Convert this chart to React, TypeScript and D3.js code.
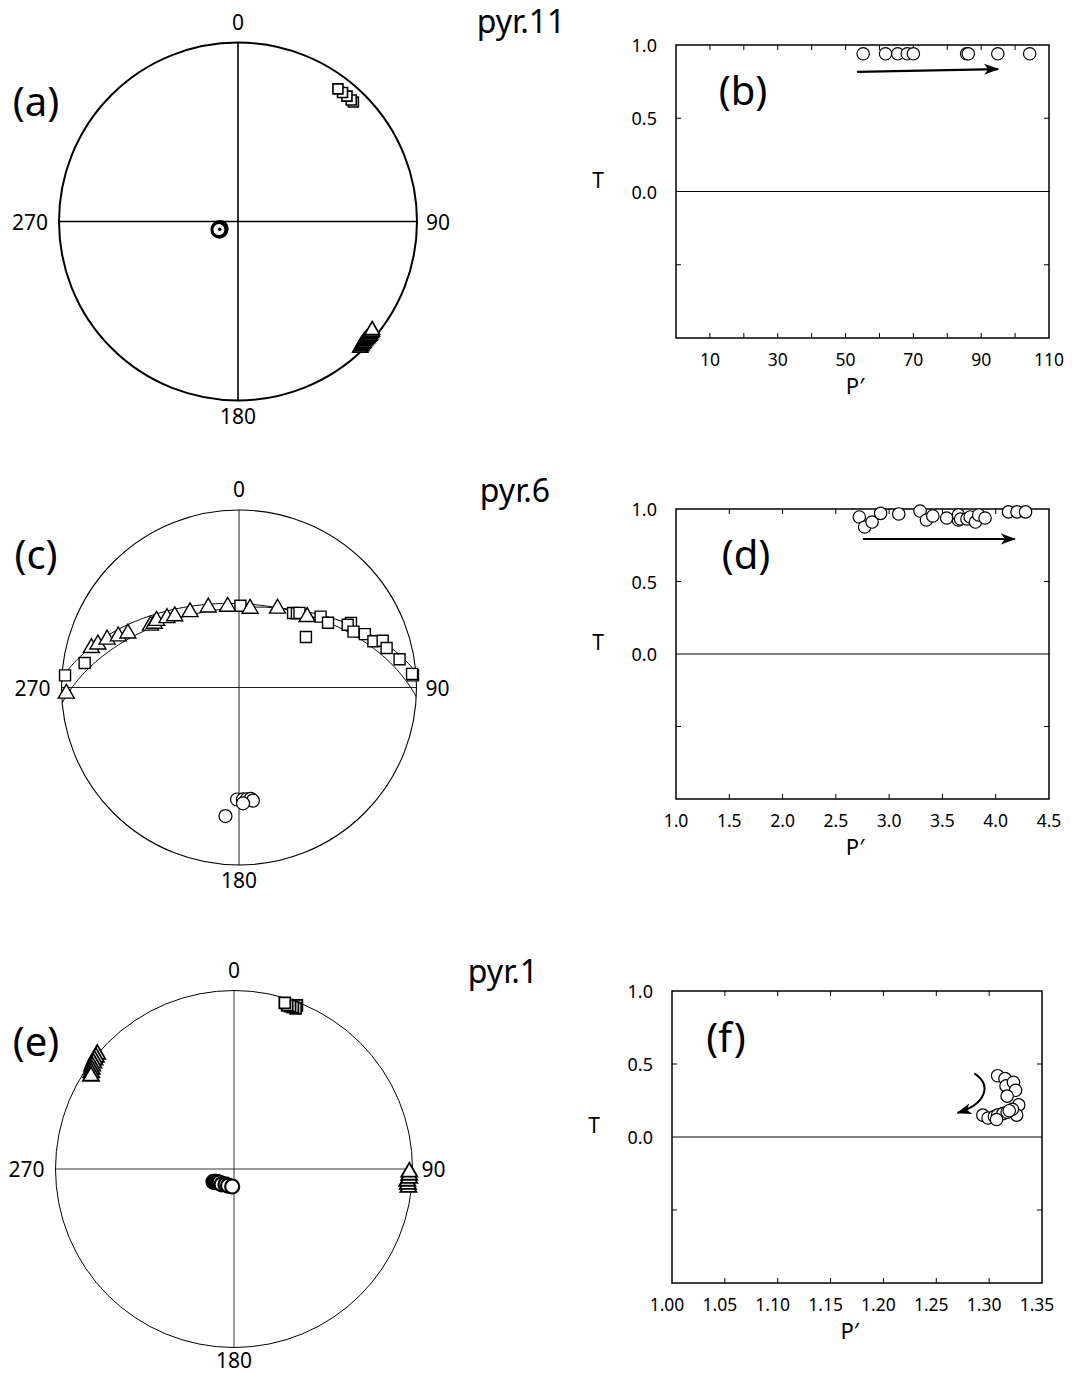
import * as d3 from 'd3'

const FONT = '"Noto Sans", "Open Sans", sans-serif'

// Stereonet data: [trend, plunge] in degrees, lower hemisphere, equal-area
// pyr.11
const a_k1: [number, number][] = [[44, 8], [43, 8], [41, 8], [39, 8], [37, 8]]
const a_k2: [number, number][] = [
  [136, 2], [135.5, 2.3], [135, 2.5], [134.5, 2.7], [134, 2.8], [133.5, 3], [133, 3], [132.5, 3],
  [132, 3], [131.5, 3], [131, 3], [130.5, 3.2], [130, 3.3], [129.5, 3.5], [129, 4],
]
const a_k3: [number, number][] = [[247, 81], [249, 81.3], [245, 80.7], [247, 80.6]]
const a_mean: [number, number][] = [[247, 81]]

// pyr.6
const c_k1: [number, number][] = [
  [274, 2], [279, 13], [1, 52], [36, 47], [38, 46], [39, 45], [53, 51], [49, 39], [54, 38],
  [60, 28], [60, 30], [64, 29], [67, 24], [71, 21], [72, 16], [75, 15], [80, 9], [86, 2], [85.5, 2.5],
]
const c_k2: [number, number][] = [
  [268, 3], [285, 15], [287, 18], [290, 22], [293, 27], [296, 31], [305, 39], [307, 40], [309, 40],
  [314, 43], [318, 45], [327, 48], [339, 50], [352, 52], [8, 53], [26, 49], [44, 44],
]
const c_k3: [number, number][] = [[186, 28], [181, 37], [178, 37], [176, 37], [174, 37], [173, 36], [178, 35]]
// great circles: [dip direction, dip]
const c_planes: [number, number][] = [[355, 53], [3, 51]]

// pyr.1
const e_k1: [number, number][] = [[21, 2], [21, 4], [20, 4], [19, 4], [18, 4], [17, 3]]
const e_k2: [number, number][] = [
  [310, 0], [309, 0.5], [308, 1], [307, 1.5], [306, 2], [305, 3], [304, 4], [303, 5],
  [96, 2], [95, 2.5], [94, 3], [93, 2], [92, 2], [91, 2],
]
const e_k3: [number, number][] = [[238, 79], [236, 79.5], [234, 80], [230, 80.5], [227, 81], [219, 81], [209, 82], [200, 82], [186, 82]]

// T vs P' data
const b_P = [55.2, 61.8, 65.4, 68.2, 70.0, 85.7, 86.2, 94.9, 104.3]
const b_T = [0.94, 0.94, 0.94, 0.94, 0.94, 0.94, 0.94, 0.94, 0.94]
const b_arrow: [number, number][] = [[53.4, 0.816], [95, 0.836]]

const d_P = [2.72, 2.77, 2.84, 2.92, 3.09, 3.29, 3.35, 3.41, 3.54, 3.65, 3.65, 3.67, 3.73, 3.76, 3.81, 3.84, 3.9, 4.12, 4.2, 4.28]
const d_T = [0.945, 0.876, 0.91, 0.97, 0.966, 0.986, 0.924, 0.952, 0.938, 0.924, 0.959, 0.931, 0.931, 0.945, 0.91, 0.959, 0.938, 0.98, 0.98, 0.98]
const d_arrow: [number, number][] = [[2.754, 0.793], [4.18, 0.793]]

const f_P = [1.308, 1.315, 1.316, 1.323, 1.325, 1.317, 1.328, 1.326, 1.322, 1.294, 1.299, 1.305, 1.308, 1.313, 1.317, 1.319, 1.307]
const f_T = [0.42, 0.4, 0.35, 0.375, 0.32, 0.28, 0.22, 0.15, 0.19, 0.15, 0.13, 0.14, 0.15, 0.16, 0.17, 0.18, 0.12]
// curved arrow: start, control1, control2, end
const f_arrow: [number, number][] = [[1.286, 0.436], [1.303, 0.354], [1.297, 0.225], [1.27, 0.165]]

const b_ticks = [10, 20, 30, 40, 50, 60, 70, 80, 90, 100]
const b_labels = ['10', '30', '50', '70', '90', '110']
const d_ticks = [1.5, 2.0, 2.5, 3.0, 3.5, 4.0]
const d_labels = ['1.0', '1.5', '2.0', '2.5', '3.0', '3.5', '4.0', '4.5']
const f_ticks = [1.05, 1.1, 1.15, 1.2, 1.25, 1.3]
const f_labels = ['1.00', '1.05', '1.10', '1.15', '1.20', '1.25', '1.30', '1.35']
const T_labels = ['1.0', '0.5', '0.0']

const rad = Math.PI / 180

function project([trend, plunge]: [number, number]): [number, number] {
  const r = Math.SQRT2 * Math.sin((90 - plunge) * rad / 2)
  return [r * Math.sin(trend * rad), r * Math.cos(trend * rad)]
}

function greatCircle([dd, dip]: [number, number]): [number, number][] {
  const s = [Math.sin((dd - 90) * rad), Math.cos((dd - 90) * rad), 0]
  const dv = [Math.sin(dd * rad) * Math.cos(dip * rad), Math.cos(dd * rad) * Math.cos(dip * rad), Math.sin(dip * rad)]
  return d3.range(0, 180.5, 1).map(phi => {
    const v = s.map((c, i) => Math.cos(phi * rad) * c + Math.sin(phi * rad) * dv[i])
    const tr = Math.atan2(v[0], v[1]) / rad
    const pl = Math.asin(Math.min(1, Math.max(-1, v[2]))) / rad
    return project([tr, pl])
  })
}

interface StereoProps {
  cx: number
  cy: number
  R: number
  k1: [number, number][]
  k2: [number, number][]
  k3: [number, number][]
  mean?: [number, number][]
  planes?: [number, number][]
  lw: number
  sq: number
  tri: number
  cr: number
  cw: number
  mw: number
  bottomDy?: number
}

function Stereonet({ cx, cy, R, k1, k2, k3, mean = [], planes = [], lw, sq, tri, cr, cw, mw, bottomDy = 15 }: StereoProps) {
  const x = d3.scaleLinear().domain([-1, 1]).range([cx - R, cx + R])
  const y = d3.scaleLinear().domain([-1, 1]).range([cy + R, cy - R])
  const line = d3.line<[number, number]>().x(d => x(d[0])).y(d => y(d[1]))
  const square = d3.symbol(d3.symbolSquare, sq * sq)()
  const triangle = d3.symbol(d3.symbolTriangle, (Math.sqrt(3) / 4) * tri * tri)()
  return (
    <g>
      <line x1={x(-1)} x2={x(1)} y1={y(0)} y2={y(0)} stroke="#000" strokeWidth={lw * 0.8} />
      <line x1={x(0)} x2={x(0)} y1={y(-1)} y2={y(1)} stroke="#000" strokeWidth={lw * 0.8} />
      <circle cx={x(0)} cy={y(0)} r={R} fill="none" stroke="#000" strokeWidth={lw} />
      {planes.map((p, i) => (
        <path key={i} d={line(greatCircle(p)) || ''} fill="none" stroke="#000" strokeWidth={1} />
      ))}
      {k1.map((d, i) => {
        const [px, py] = project(d)
        return <path key={i} d={square || ''} transform={`translate(${x(px)},${y(py)})`} fill="#fff" stroke="#000" strokeWidth={mw} />
      })}
      {k2.map((d, i) => {
        const [px, py] = project(d)
        return <path key={i} d={triangle || ''} transform={`translate(${x(px)},${y(py)})`} fill="#fff" stroke="#000" strokeWidth={mw} />
      })}
      {k3.map((d, i) => {
        const [px, py] = project(d)
        return <circle key={i} cx={x(px)} cy={y(py)} r={cr} fill="#fff" stroke="#000" strokeWidth={cw} />
      })}
      {mean.map((d, i) => {
        const [px, py] = project(d)
        return <circle key={i} cx={x(px)} cy={y(py)} r={1.8} fill="#000" />
      })}
      <text x={x(0)} y={y(1) - 21} textAnchor="middle" dominantBaseline="central" fontSize={21}>0</text>
      <text x={x(0)} y={y(-1) + bottomDy} textAnchor="middle" dominantBaseline="central" fontSize={21}>180</text>
      <text x={x(-1) - 29} y={y(0)} textAnchor="middle" dominantBaseline="central" fontSize={21}>270</text>
      <text x={x(1) + 21} y={y(0)} textAnchor="middle" dominantBaseline="central" fontSize={21}>90</text>
    </g>
  )
}

interface PlotProps {
  id: string
  left: number
  top: number
  right: number
  bottom: number
  xDomain: [number, number]
  ticks: number[]
  labels: string[]
  labelDx?: number
  P: number[]
  T: number[]
  arrow: [number, number][]
  curved?: boolean
}

function TPlot({ id, left, top, right, bottom, xDomain, ticks, labels, labelDx = 0, P, T, arrow, curved }: PlotProps) {
  const x = d3.scaleLinear().domain(xDomain).range([left, right])
  const y = d3.scaleLinear().domain([-1, 1]).range([bottom, top])
  const tl = 5
  let arrowPath = ''
  if (curved) {
    const p = d3.path()
    p.moveTo(x(arrow[0][0]), y(arrow[0][1]))
    p.bezierCurveTo(x(arrow[1][0]), y(arrow[1][1]), x(arrow[2][0]), y(arrow[2][1]), x(arrow[3][0]), y(arrow[3][1]))
    arrowPath = p.toString()
  } else {
    arrowPath = d3.line<[number, number]>().x(d => x(d[0])).y(d => y(d[1]))(arrow) || ''
  }
  return (
    <g>
      <defs>
        <marker id={`ah-${id}`} markerUnits="userSpaceOnUse" markerWidth={20} markerHeight={14} refX={14} refY={6} orient="auto" viewBox="0 0 20 12">
          <path d="M15,6 L0,0.5 L4,6 L0,11.5 Z" fill="#000" />
        </marker>
      </defs>
      <line x1={left} x2={right} y1={y(0)} y2={y(0)} stroke="#000" strokeWidth={1} />
      {ticks.map(t => (
        <g key={t}>
          <line x1={x(t)} x2={x(t)} y1={top} y2={top + tl} stroke="#000" strokeWidth={1} />
          <line x1={x(t)} x2={x(t)} y1={bottom} y2={bottom - tl} stroke="#000" strokeWidth={1} />
        </g>
      ))}
      {[0.5, -0.5].map(t => (
        <g key={t}>
          <line x1={left} x2={left + tl} y1={y(t)} y2={y(t)} stroke="#000" strokeWidth={1} />
          <line x1={right} x2={right - tl} y1={y(t)} y2={y(t)} stroke="#000" strokeWidth={1} />
        </g>
      ))}
      <rect x={left} y={top} width={right - left} height={bottom - top} fill="none" stroke="#000" strokeWidth={1.5} />
      {T_labels.map(l => (
        <text key={l} x={left - 19} y={y(+l)} textAnchor="end" dominantBaseline="central" fontSize={18}>{l}</text>
      ))}
      <text x={left - 78} y={y(0) - 12} textAnchor="middle" dominantBaseline="central" fontSize={21}>T</text>
      {labels.map(l => (
        <text key={l} x={x(+l) + labelDx} y={bottom + 21} textAnchor="middle" dominantBaseline="central" fontSize={17.5}>{l}</text>
      ))}
      <text x={left + (right - left) * 0.48} y={bottom + 47} textAnchor="middle" dominantBaseline="central" fontSize={22}>P′</text>
      {P.map((p, i) => (
        <circle key={i} cx={x(p)} cy={y(T[i])} r={6.2} fill="#fff" stroke="#000" strokeWidth={1.2} />
      ))}
      <path d={arrowPath} fill="none" stroke="#000" strokeWidth={curved ? 2 : 2.2} markerEnd={`url(#ah-${id})`} />
    </g>
  )
}

export default function App() {
  return (
    <svg width={1072} height={1374} style={{ position: 'absolute', left: 0, top: 0, background: '#fff' }} fontFamily={FONT}>
      <rect width={1072} height={1374} fill="#fff" />
      {/* row 1 */}
      <Stereonet cx={238} cy={221.5} R={179} k1={a_k1} k2={a_k2} k3={a_k3} mean={a_mean} lw={2} sq={10} tri={15} cr={7} cw={3} mw={1.6} />
      <text x={36} y={100} textAnchor="middle" dominantBaseline="central" fontSize={40}>(a)</text>
      <text x={521} y={20} textAnchor="middle" dominantBaseline="central" fontSize={32}>pyr.11</text>
      <TPlot id="b" left={676} top={45} right={1049} bottom={338} xDomain={[0, 110]} ticks={b_ticks} labels={b_labels} P={b_P} T={b_T} arrow={b_arrow} />
      <text x={743} y={89} textAnchor="middle" dominantBaseline="central" fontSize={40}>(b)</text>

      {/* row 2 */}
      <Stereonet cx={239} cy={687.5} R={177.5} k1={c_k1} k2={c_k2} k3={c_k3} planes={c_planes} lw={1.1} sq={11} tri={16} cr={6.5} cw={1.2} mw={1.4} />
      <text x={36} y={553} textAnchor="middle" dominantBaseline="central" fontSize={40}>(c)</text>
      <text x={515} y={489} textAnchor="middle" dominantBaseline="central" fontSize={32}>pyr.6</text>
      <TPlot id="d" left={676} top={509} right={1049} bottom={799} xDomain={[1, 4.5]} ticks={d_ticks} labels={d_labels} P={d_P} T={d_T} arrow={d_arrow} />
      <text x={746} y={553} textAnchor="middle" dominantBaseline="central" fontSize={40}>(d)</text>

      {/* row 3 */}
      <Stereonet cx={234} cy={1169} R={178.5} k1={e_k1} k2={e_k2} k3={e_k3} lw={1} sq={11} tri={16} cr={7} cw={2.2} mw={1.8} bottomDy={12} />
      <text x={36} y={1040} textAnchor="middle" dominantBaseline="central" fontSize={40}>(e)</text>
      <text x={503} y={970} textAnchor="middle" dominantBaseline="central" fontSize={32}>pyr.1</text>
      <TPlot id="f" left={672} top={991} right={1042} bottom={1283} xDomain={[1, 1.35]} ticks={f_ticks} labels={f_labels} labelDx={-5} P={f_P} T={f_T} arrow={f_arrow} curved />
      <text x={726} y={1036} textAnchor="middle" dominantBaseline="central" fontSize={40}>(f)</text>
    </svg>
  )
}
